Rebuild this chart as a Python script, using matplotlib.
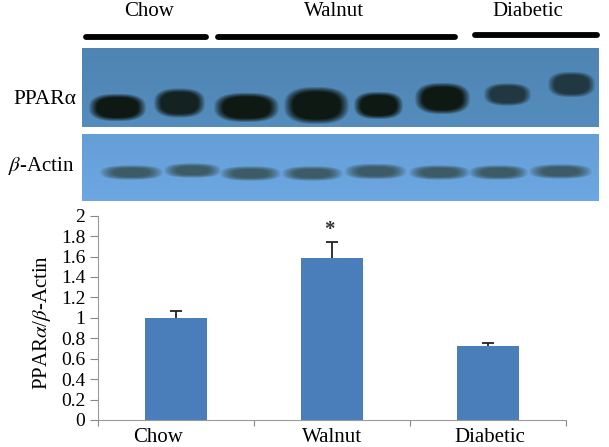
import numpy as np
from matplotlib import pyplot as plt

plt.rcParams['font.family'] = ['Liberation Serif', 'DejaVu Serif']
plt.rcParams['mathtext.fontset'] = 'stix'

W, H = 609, 447

# chart values
categories = ['Chow', 'Walnut', 'Diabetic']
ratio = [1.0, 1.59, 0.725]
ratio_top = [1.065, 1.74, 0.755]
y_ticks = [0, 0.2, 0.4, 0.6, 0.8, 1, 1.2, 1.4, 1.6, 1.8, 2]
y_tick_labels = ['0', '0.2', '0.4', '0.6', '0.8', '1', '1.2', '1.4', '1.6', '1.8', '2']
label_pos = [0.385, 1.503, 2.51]

# group lines over the blot: start, end, y
group_lines = [(86, 206, 36.5), (218, 455, 36.5), (475, 597, 35)]

# bands in image pixels
ppar_x = [117, 179, 246, 316, 378, 442, 507, 571]
ppar_y = [107, 102.5, 107, 105, 105, 98, 94, 84]
ppar_w = [58, 52, 66, 66, 50, 56, 48, 48]
ppar_h = [28, 30, 30, 38, 28, 32, 23, 26]
ppar_dark = [1, 0.92, 1, 1, 1, 1, 0.72, 0.72]

actin_x = [131, 192, 250, 312, 375, 439, 498, 560]
actin_y = [172, 170, 173, 173, 171, 172, 172, 171]
actin_w = [64, 58, 62, 62, 63, 62, 60, 64]
actin_h = [15, 15, 15, 15, 16, 15, 15, 15]


def blot(x0, x1, y0, y1, back, band, xs, ys, ws, hs, dark, soft):
    xx, yy = np.meshgrid(np.arange(x0, x1), np.arange(y0, y1))
    img = np.ones(xx.shape + (3,)) * np.array(back)
    shade = 1 + 0.06 * (yy - y0) / (y1 - y0)
    img = np.clip(img * shade[..., None], 0, 1)
    for cx, cy, w, h, d in zip(xs, ys, ws, hs, dark):
        r = (np.abs(xx - cx) / (w / 2)) ** 2.6 + (np.abs(yy - cy) / (h / 2)) ** 2.6
        a = d * np.clip((1.0 - r) / soft, 0, 1)
        a = a[..., None]
        img = img * (1 - a) + np.array(band) * a
    return img


fig = plt.figure(figsize=(W / 100, H / 100), dpi=100)
bg = fig.add_axes([0, 0, 1, 1])
bg.axis('off')

img1 = blot(82, 599, 48, 127, (0.31, 0.52, 0.70), (0.06, 0.10, 0.08),
            ppar_x, ppar_y, ppar_w, ppar_h, ppar_dark, 0.6)
bg.imshow(img1, extent=(82, 599, 127, 48), aspect='auto', interpolation='bilinear')
img2 = blot(82, 599, 134, 201, (0.40, 0.62, 0.84), (0.24, 0.36, 0.40),
            actin_x, actin_y, actin_w, actin_h, [1] * 8, 0.8)
bg.imshow(img2, extent=(82, 599, 201, 134), aspect='auto', interpolation='bilinear')
bg.set_xlim(0, W)
bg.set_ylim(H, 0)

for start, end, y in group_lines:
    bg.plot([start, end], [y, y], color='black', lw=4.2, solid_capstyle='round')

bg.text(149, 12, 'Chow', fontsize=15, ha='center', va='center')
bg.text(334, 12, 'Walnut', fontsize=15, ha='center', va='center')
bg.text(528, 12, 'Diabetic', fontsize=15, ha='center', va='center')
bg.text(45, 100, 'PPAR\u03b1', fontsize=15.5, ha='center', va='center')
bg.text(41, 166, r'$\beta$-Actin', fontsize=15, ha='center', va='center')

ax = fig.add_axes([98 / W, 1 - 420 / H, (566 - 98) / W, (420 - 215.7) / H])
ax.patch.set_alpha(0)
x = np.arange(len(categories)) + 0.5
ax.bar(x, ratio, width=0.4, color='#4a7ebb', zorder=2)
# only the upper half of each error bar is drawn
ax.vlines(x, ratio, ratio_top, color='#222222', lw=1.3, zorder=3)
ax.plot(x, ratio_top, ls='none', marker='_', ms=9, mew=1.3, color='#222222', zorder=3)
ax.text(x[1] - 0.015, 1.86, '*', fontsize=15, fontweight='bold', ha='center', va='center', color='#333333')

ax.set_xlim(0, 3)
ax.set_ylim(0, 2)
ax.set_yticks(y_ticks)
ax.set_yticklabels(y_tick_labels, fontsize=14)
ax.set_xticks([0, 1, 2, 3])
ax.set_xticklabels([])
ax.set_xticks(label_pos, minor=True)
ax.set_xticklabels(categories, minor=True, fontsize=15)
ax.tick_params(axis='x', which='minor', length=0, pad=6)
ax.tick_params(axis='x', which='major', length=4, color='#888888')
ax.tick_params(axis='y', length=6, color='#888888', pad=3)
for s in ['top', 'right']:
    ax.spines[s].set_visible(False)
for s in ['left', 'bottom']:
    ax.spines[s].set_color('#999999')
ax.set_ylabel(r'PPAR$\alpha$/$\beta$-Actin', fontsize=15, labelpad=6, y=0.48)

fig.savefig('out.png', dpi=100)
